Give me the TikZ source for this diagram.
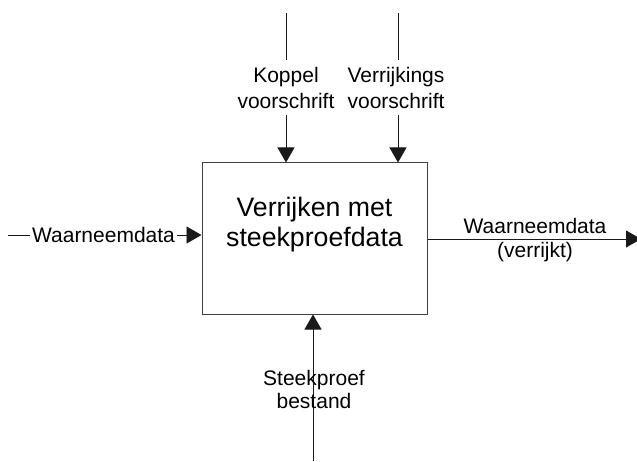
\documentclass[tikz,border=0pt]{standalone}
\usepackage{fontspec}
\setmainfont{Liberation Sans}
\usetikzlibrary{arrows.meta}
\begin{document}
\begin{tikzpicture}[x=1pt,y=-1pt,
  conn/.style={line width=0.9pt,draw=black!90},
  arr/.style={conn,-{Triangle[length=15pt,width=17pt]}},
  lbl/.style={inner sep=0pt,align=center,font=\fontsize{21}{24}\selectfont},
  proc/.style={draw=black!75,line width=1pt,inner sep=0pt,minimum width=225pt,minimum height=151pt}]
\useasboundingbox (0,0) rectangle (637,462);
% process box
\node[proc] (box) at (314.5,238.5) {};
\node[inner sep=0pt,align=center,font=\fontsize{26.7}{30}\selectfont] (boxt) at (314.5,225) {Verrijken met\\steekproefdata};
% top controls
\coordinate (k0) at (286,13);
\coordinate (k1) at (286,60);
\coordinate (k2) at (286,115);
\node[lbl,font=\fontsize{21}{26}\selectfont] (kl) at (286,87.75) {Koppel\\voorschrift};
\draw[conn] (k0) -- (k1);
\draw[arr] (k2) -- (box.north -| k2);
\coordinate (v0) at (398,13);
\coordinate (v1) at (398,60);
\coordinate (v2) at (398,115);
\node[lbl,font=\fontsize{21}{26}\selectfont] (vl) at (396,87.75) {Verrijkings\\voorschrift};
\draw[conn] (v0) -- (v1);
\draw[arr] (v2) -- (box.north -| v2);
% bottom mechanism
\coordinate (s0) at (313,461);
\draw[arr] (s0) -- (box.south -| s0);
\node[lbl,font=\fontsize{21}{23}\selectfont] (sl) at (314,389.25) {Steekproef\\bestand};
% left input
\coordinate (w0) at (8,235);
\node[inner sep=0pt,anchor=base,font=\fontsize{21}{24}\selectfont] (wl) at (103.5,243) {Waarneemdata};
\draw[conn] (w0) -- ([xshift=-2pt]wl.west |- w0);
\draw[arr] ([xshift=2pt]wl.east |- w0) -- (box.west |- w0);
% right output
\coordinate (o1) at (641,239);
\draw[arr] (box.east |- o1) -- (o1);
\node[lbl] (ol) at (535,239.7) {Waarneemdata\\(verrijkt)};
\end{tikzpicture}
\end{document}
